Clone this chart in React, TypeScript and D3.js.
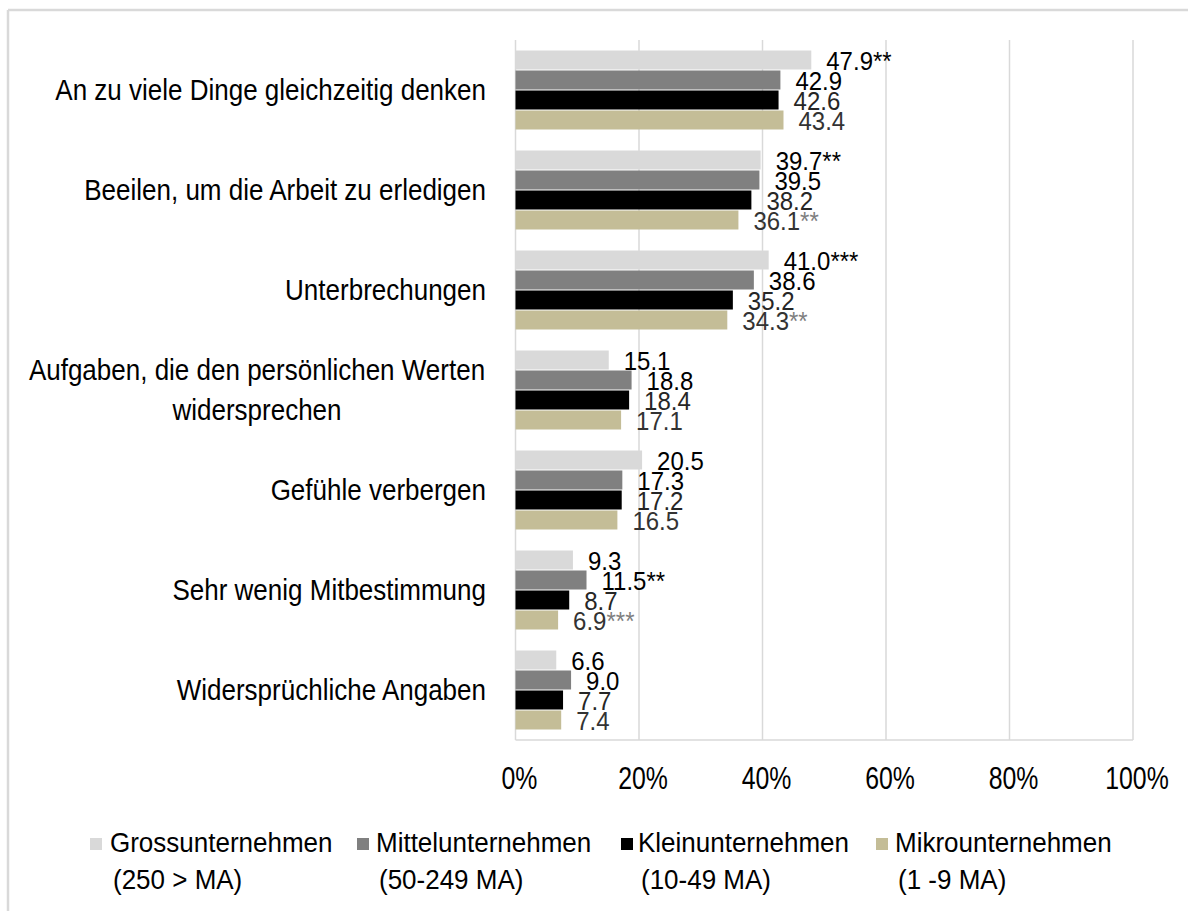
import React from "react";
import * as d3 from "d3";

const categories = [
  "An zu viele Dinge gleichzeitig denken",
  "Beeilen, um die Arbeit zu erledigen",
  "Unterbrechungen",
  "Aufgaben, die den persönlichen Werten\nwidersprechen",
  "Gefühle verbergen",
  "Sehr wenig Mitbestimmung",
  "Widersprüchliche Angaben",
];

const seriesNames = [
  ["Grossunternehmen", "(250 > MA)"],
  ["Mittelunternehmen", "(50-249 MA)"],
  ["Kleinunternehmen", "(10-49 MA)"],
  ["Mikrounternehmen", "(1 -9 MA)"],
];

const gross = [47.9, 39.7, 41.0, 15.1, 20.5, 9.3, 6.6];
const mittel = [42.9, 39.5, 38.6, 18.8, 17.3, 11.5, 9.0];
const klein = [42.6, 38.2, 35.2, 18.4, 17.2, 8.7, 7.7];
const mikro = [43.4, 36.1, 34.3, 17.1, 16.5, 6.9, 7.4];

const grossSig = ["**", "**", "***", "", "", "", ""];
const mittelSig = ["", "", "", "", "", "**", ""];
const kleinSig = ["", "", "", "", "", "", ""];
const mikroSig = ["", "**", "**", "", "", "***", ""];

const xTicks = [0, 20, 40, 60, 80, 100];

const colors = ["#d9d9d9", "#808080", "#000000", "#c4bd97"];
const labelColors = ["#000000", "#000000", "#262626", "#333333"];
const sigColors = ["#000000", "#000000", "#262626", "#7f7f7f"];

const FONT = "'Liberation Sans', Arial, sans-serif";

export default function App() {
  const W = 1188;
  const H = 911;
  const plotLeft = 515.5;
  const plotRight = 1133;
  const plotTop = 40;
  const plotBottom = 740;

  const x = d3.scaleLinear().domain([0, 100]).range([plotLeft, plotRight]);
  const y = d3
    .scaleBand<string>()
    .domain(categories)
    .range([plotTop, plotBottom])
    .paddingInner(0.2)
    .paddingOuter(0.1);

  const seriesKeys = ["g", "m", "k", "mi"];
  const ySub = d3.scaleBand<string>().domain(seriesKeys).range([0, y.bandwidth()]);

  const values = [gross, mittel, klein, mikro];
  const sigs = [grossSig, mittelSig, kleinSig, mikroSig];

  const legendX = [90, 357, 621, 876];
  const legendTextX = [113, 379, 641, 898];

  return (
    <svg
      width={W}
      height={H}
      style={{ position: "absolute", left: 0, top: 0, background: "#fff" }}
      fontFamily={FONT}
    >
      <rect x={0} y={0} width={W} height={H} fill="#fff" />
      {/* frame */}
      <line x1={8} y1={10} x2={W} y2={10} stroke="#d9d9d9" strokeWidth={2.5} />
      <line x1={8} y1={10} x2={8} y2={H} stroke="#d9d9d9" strokeWidth={2.5} />

      {/* gridlines */}
      {xTicks.map((t) => (
        <line
          key={"g" + t}
          x1={x(t)}
          x2={x(t)}
          y1={plotTop}
          y2={plotBottom}
          stroke="#d9d9d9"
          strokeWidth={1.5}
        />
      ))}
      <line x1={plotLeft} x2={plotRight} y1={plotBottom} y2={plotBottom} stroke="#d9d9d9" strokeWidth={1.5} />

      {/* bars */}
      {categories.map((c, ci) =>
        values.map((vals, si) => {
          const by = (y(c) as number) + (ySub(seriesKeys[si]) as number);
          return (
            <rect
              key={c + si}
              x={x(0)}
              y={by + 0.5}
              width={x(vals[ci]) - x(0)}
              height={ySub.bandwidth() - 1}
              fill={colors[si]}
            />
          );
        })
      )}

      {/* data labels */}
      {categories.map((c, ci) =>
        values.map((vals, si) => {
          const by = (y(c) as number) + (ySub(seriesKeys[si]) as number);
          const cy = by + ySub.bandwidth() / 2;
          const fs = 24;
          return (
            <text
              key={"l" + c + si}
              transform={`translate(${x(vals[ci]) + 15},${cy + fs * 0.36 * 1.08 + 1}) scale(1,1.08)`}
              fontSize={fs}
              fill={labelColors[si]}
            >
              {vals[ci].toFixed(1)}
              {sigs[si][ci] ? <tspan fill={sigColors[si]}>{sigs[si][ci]}</tspan> : null}
            </text>
          );
        })
      )}

      {/* category labels */}
      {categories.map((c) => {
        const lines = c.split("\n");
        const cy = (y(c) as number) + y.bandwidth() / 2;
        const lh = 40;
        const fs = 26;
        const sy = 1.1;
        if (lines.length === 1) {
          return (
            <text
              key={"c" + c}
              transform={`translate(486,${cy + fs * 0.36 * sy}) scale(1,${sy})`}
              fontSize={fs}
              textAnchor="end"
              fill="#000"
            >
              {c}
            </text>
          );
        }
        return (
          <g key={"c" + c}>
            {lines.map((ln, li) => (
              <text
                key={li}
                transform={`translate(257,${cy - ((lines.length - 1) * lh) / 2 + li * lh + fs * 0.36 * sy}) scale(1,${sy})`}
                fontSize={fs}
                textAnchor="middle"
                fill="#000"
              >
                {ln}
              </text>
            ))}
          </g>
        );
      })}

      {/* x tick labels */}
      {xTicks.map((t) => (
        <text
          key={"t" + t}
          transform={`translate(${x(t) + 4},${789}) scale(0.92,1.15)`}
          fontSize={27}
          textAnchor="middle"
          fill="#000"
        >
          {t + "%"}
        </text>
      ))}

      {/* legend */}
      {seriesNames.map((nm, i) => (
        <g key={"lg" + i}>
          <rect x={legendX[i]} y={838} width={12} height={12} fill={colors[i]} />
          <text transform={`translate(${legendTextX[i] - 3},852) scale(1,1.08)`} fontSize={26} fill="#000">
            {nm[0]}
          </text>
          <text transform={`translate(${legendTextX[i]},889) scale(1,1.08)`} fontSize={26} fill="#000">
            {nm[1]}
          </text>
        </g>
      ))}
    </svg>
  );
}
